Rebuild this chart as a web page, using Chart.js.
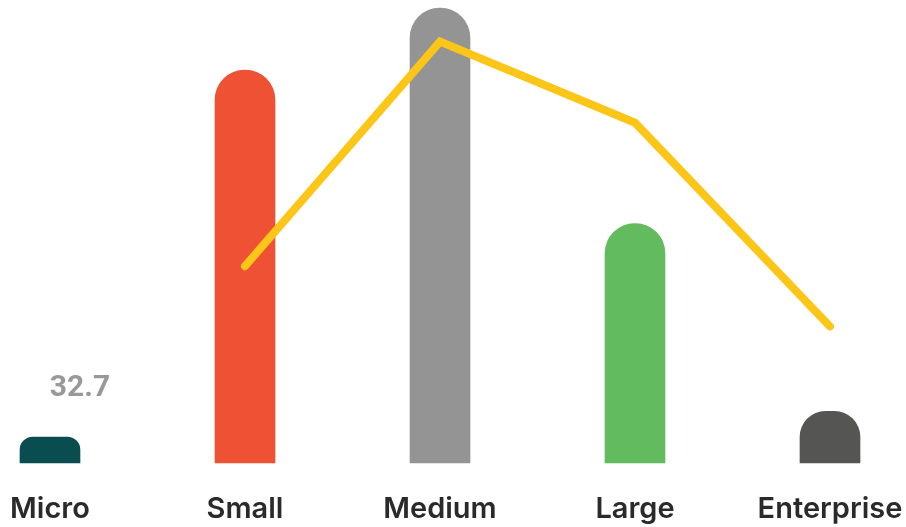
<!DOCTYPE html>
<html>
<head>
<meta charset="utf-8">
<script src="https://cdn.jsdelivr.net/npm/chart.js@4"></script>
<style>
  html, body { margin: 0; padding: 0; background: #fff; }
  #wrap { width: 906px; height: 527px; }
</style>
</head>
<body>
<div id="wrap"><canvas id="chart"></canvas></div>
<script>
// categories and values
const categories = ['Micro', 'Small', 'Medium', 'Large', 'Enterprise'];
const barValues = [32.7, 494, 572, 301, 65];
const lineValues = [null, 42.5, 91, 73.5, 29.5];
const barColors = ['#0a4d50', '#ee5134', '#949494', '#62bb5e', '#555553'];
const shownLabels = ['32.7', null, null, null, null];

// draws the single value label above the Micro bar
const valueLabel = {
  id: 'valueLabel',
  afterDatasetsDraw(chart) {
    const ctx = chart.ctx;
    const meta = chart.getDatasetMeta(1);
    ctx.save();
    ctx.font = 'bold 30px Roboto';
    ctx.fillStyle = '#999999';
    ctx.textAlign = 'center';
    ctx.textBaseline = 'middle';
    meta.data.forEach((bar, i) => {
      if (!shownLabels[i]) return;
      ctx.fillText(shownLabels[i], bar.x + 30, bar.y - 48);
    });
    ctx.restore();
  }
};

new Chart(document.getElementById('chart'), {
  data: {
    labels: categories,
    datasets: [
      {
        type: 'line',
        data: lineValues,
        yAxisID: 'y1',
        borderColor: '#fbc618',
        borderWidth: 8,
        borderCapStyle: 'round',
        borderJoinStyle: 'miter',
        pointRadius: 0,
        tension: 0,
        order: 0,
        clip: false
      },
      {
        type: 'bar',
        data: barValues,
        yAxisID: 'y',
        backgroundColor: barColors,
        borderRadius: { topLeft: 30, topRight: 30 },
        borderSkipped: 'bottom',
        barThickness: 60,
        order: 1,
        clip: false
      }
    ]
  },
  options: {
    responsive: true,
    maintainAspectRatio: false,
    animation: false,
    layout: { padding: { left: 50, right: 76, top: 0, bottom: 0 } },
    plugins: { legend: { display: false }, tooltip: { enabled: false } },
    scales: {
      x: {
        offset: false,
        grid: { display: false },
        border: { display: false },
        afterFit(scale) {
          scale.height = 64;
          scale.paddingLeft = 0;
          scale.paddingRight = 0;
        },
        ticks: {
          padding: 21,
          color: '#2a2a2a',
          font: { family: 'Inter', size: 29, weight: '600' },
          maxRotation: 0,
          autoSkip: false
        }
      },
      y: { display: false, min: 0, max: 582 },
      y1: { display: false, min: 0, max: 100 }
    }
  },
  plugins: [valueLabel]
});
</script>
</body>
</html>
